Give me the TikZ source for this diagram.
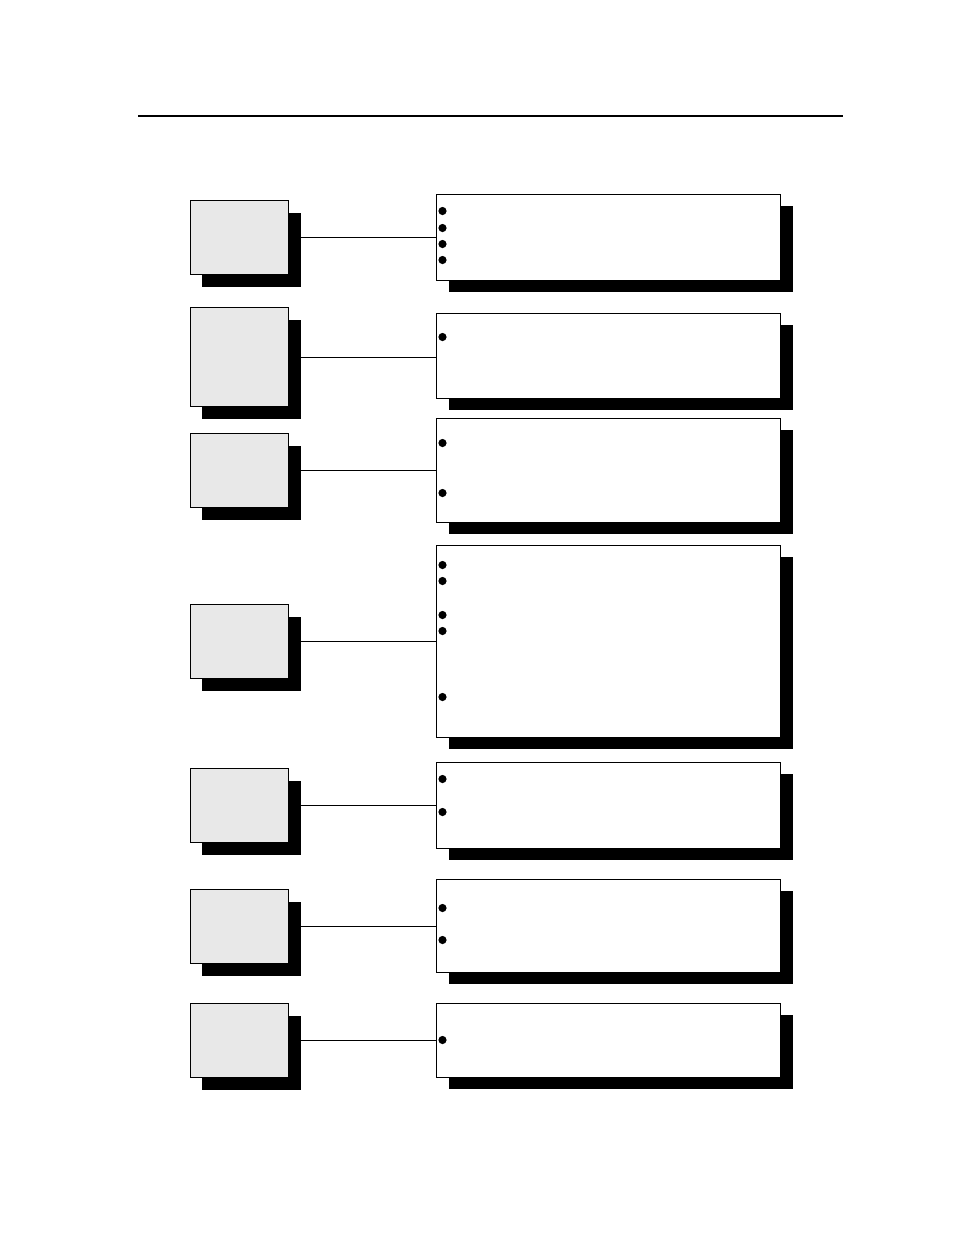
\documentclass[tikz,border=0pt]{standalone}
\usetikzlibrary{positioning}
\tikzset{
  lbox/.style={draw=black, line width=1pt, fill=black!9, inner sep=0pt, anchor=north west, minimum width=98pt},
  rbox/.style={draw=black, line width=1pt, fill=white, inner sep=0pt, anchor=north west, minimum width=344pt},
  shad/.style={fill=black, draw=none, inner sep=0pt, anchor=north west},
  conn/.style={draw=black, line width=0.8pt},
  bul/.style={fill=black, draw=none}
}
\begin{document}
\begin{tikzpicture}[x=1pt,y=-1pt]
\useasboundingbox (0,0) rectangle (954,1235);
\draw[line width=1.2pt] (138,116) -- (843,116);
% left y1/y2 ; right y1/y2
\foreach \i/\la/\lb/\ra/\rb in {1/200/274/194/280, 2/307/406/313/398, 3/433/507/418/522, 4/604/678/545/737, 5/768/842/762/848, 6/889/963/879/972, 7/1003/1077/1003/1077}{
  \pgfmathsetmacro{\lh}{\lb-\la}
  \pgfmathsetmacro{\rh}{\rb-\ra}
  \node[shad, minimum width=99pt, minimum height=\lh pt] (LS\i) at (202,\la+13) {};
  \node[lbox, minimum height=\lh pt] (L\i) at (190,\la) {};
  \node[shad, minimum width=344pt, minimum height=\rh pt] (RS\i) at (449,\ra+12) {};
  \node[rbox, minimum height=\rh pt] (R\i) at (436,\ra) {};
  \draw[conn] (LS\i.east |- L\i.center) -- (R\i.west |- L\i.center);
}
\foreach \y in {211,228,244,260, 337, 443,493, 565,581,615,631,697, 779,812, 908,940, 1040}{
  \fill[bul] (442.5,\y) circle (4.1pt);
}
\end{tikzpicture}
\end{document}
